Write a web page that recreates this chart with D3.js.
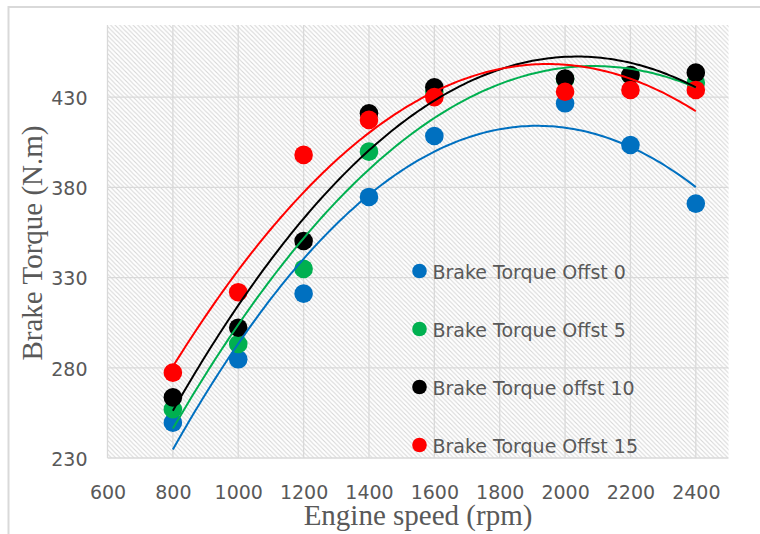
<!DOCTYPE html>
<html>
<head>
<meta charset="utf-8">
<script src="https://cdn.jsdelivr.net/npm/d3@7"></script>
<style>
  body { margin: 0; background: #fff; }
  svg { display: block; }
</style>
</head>
<body>
<svg width="760" height="534"></svg>
<script>
// Engine speed (rpm)
const speeds = [800, 1000, 1200, 1400, 1600, 2000, 2200, 2400];

// Brake torque (N.m) for each offset
const offset0 = [249.6, 284.7, 321.1, 374.7, 408.5, 426.6, 403.5, 371];
const offset5 = [257, 293.2, 334.8, 399.8, 433, 440, 442, 438];
const offset10 = [263.6, 302.2, 350.3, 421.1, 435.5, 440.3, 442.3, 443.6];
const offset15 = [277.3, 321.9, 398, 417.4, 430, 433, 434, 434];

const seriesNames = ["Brake Torque Offst 0", "Brake Torque Offst 5", "Brake Torque offst 10", "Brake Torque Offst 15"];
const seriesColors = ["#0070C0", "#00B050", "#000000", "#FF0000"];

const xTicks = [600, 800, 1000, 1200, 1400, 1600, 1800, 2000, 2200, 2400];
const yTicks = [230, 280, 330, 380, 430];

// Determinant of a 3x3 matrix
function det3(m) {
    return m[0][0] * (m[1][1] * m[2][2] - m[1][2] * m[2][1])
         - m[0][1] * (m[1][0] * m[2][2] - m[1][2] * m[2][0])
         + m[0][2] * (m[1][0] * m[2][1] - m[1][1] * m[2][0]);
}

// Polynomial trendline of order 2 (least squares), like the spreadsheet one
function polyFit2(xs, ys) {
    const x0 = d3.mean(xs);
    const u = xs.map(x => (x - x0) / 100);
    let s = [0, 0, 0, 0, 0];
    let t = [0, 0, 0];
    u.forEach((v, i) => {
        for (let k = 0; k < 5; k++) s[k] += Math.pow(v, k);
        for (let k = 0; k < 3; k++) t[k] += Math.pow(v, k) * ys[i];
    });
    const M = [[s[0], s[1], s[2]], [s[1], s[2], s[3]], [s[2], s[3], s[4]]];
    const D = det3(M);
    const coef = [0, 1, 2].map(j => {
        const Mj = M.map((row, r) => row.map((val, c) => c === j ? t[r] : val));
        return det3(Mj) / D;
    });
    return x => {
        const v = (x - x0) / 100;
        return coef[0] + coef[1] * v + coef[2] * v * v;
    };
}

function drawChart() {
    const svg = d3.select("svg");
    svg.selectAll("*").remove();

    const area = { left: 107.5, right: 728.5, top: 25, bottom: 458 };

    const scX = d3.scaleLinear().domain([600, 2500]).range([area.left, area.right]);
    const scY = d3.scaleLinear().domain([230, 470]).range([area.bottom, area.top]);

    // hatch pattern for the plot area
    const defs = svg.append("defs");
    const pat = defs.append("pattern")
        .attr("id", "hatch")
        .attr("patternUnits", "userSpaceOnUse")
        .attr("width", 4.5)
        .attr("height", 4.5);
    pat.append("path")
        .attr("d", "M-1,-1 L5.5,5.5 M-1,3.5 L1,5.5 M3.5,-1 L5.5,1")
        .attr("stroke", "#d6d6d6")
        .attr("stroke-width", 1.1);

    // outer chart border
    svg.append("rect")
        .attr("x", 8.5).attr("y", 7)
        .attr("width", 780).attr("height", 560)
        .attr("fill", "#fff")
        .attr("stroke", "#d9d9d9")
        .attr("stroke-width", 2);

    // plot area
    svg.append("rect")
        .attr("x", area.left).attr("y", area.top)
        .attr("width", area.right - area.left)
        .attr("height", area.bottom - area.top)
        .attr("fill", "url(#hatch)");

    // gridlines
    const grid = svg.append("g").attr("stroke", "#d9d9d9").attr("stroke-width", 1.3);
    grid.selectAll(".vgrid")
        .data(xTicks)
        .enter()
        .append("line")
        .attr("x1", d => scX(d)).attr("x2", d => scX(d))
        .attr("y1", area.top).attr("y2", area.bottom);
    grid.selectAll(".hgrid")
        .data(yTicks)
        .enter()
        .append("line")
        .attr("x1", area.left).attr("x2", area.right)
        .attr("y1", d => scY(d)).attr("y2", d => scY(d));

    // axes (labels only, no tick marks or domain line)
    const axisX = d3.axisBottom(scX).tickValues(xTicks).tickFormat(d3.format("d")).tickSize(0).tickPadding(0);
    const gx = svg.append("g")
        .attr("transform", `translate(0, ${area.bottom})`)
        .call(axisX);
    gx.select(".domain").remove();
    gx.selectAll("text")
        .attr("y", 40.5)
        .attr("dy", 0)
        .style("font-family", "DejaVu Sans")
        .style("font-size", "19px")
        .style("fill", "#595959");

    const axisY = d3.axisLeft(scY).tickValues(yTicks).tickFormat(d3.format("d")).tickSize(0).tickPadding(0);
    const gy = svg.append("g")
        .attr("transform", `translate(${area.left}, 0)`)
        .call(axisY);
    gy.select(".domain").remove();
    gy.selectAll("text")
        .attr("x", -20)
        .attr("dy", "0.38em")
        .style("font-family", "DejaVu Sans")
        .style("font-size", "19px")
        .style("fill", "#595959");

    // axis titles
    svg.append("text")
        .attr("x", (area.left + area.right) / 2)
        .attr("y", 525)
        .attr("text-anchor", "middle")
        .style("font-family", "Liberation Serif")
        .style("font-size", "29px")
        .style("fill", "#595959")
        .text("Engine speed (rpm)");

    svg.append("text")
        .attr("transform", `translate(41.5, ${(area.top + area.bottom) / 2 + 1.5}) rotate(-90)`)
        .attr("text-anchor", "middle")
        .style("font-family", "Liberation Serif")
        .style("font-size", "29px")
        .style("fill", "#595959")
        .text("Brake Torque (N.m)");

    const allSeries = [offset0, offset5, offset10, offset15];

    // markers
    allSeries.forEach((vals, i) => {
        svg.selectAll(".dot-" + i)
            .data(speeds.map((s, k) => ({ x: s, y: vals[k] })))
            .enter()
            .append("circle")
            .attr("class", "dot-" + i)
            .attr("cx", d => scX(d.x))
            .attr("cy", d => scY(d.y))
            .attr("r", 9.3)
            .style("fill", seriesColors[i]);
    });

    // trendlines
    const xs = d3.range(800, 2401, 10);
    allSeries.forEach((vals, i) => {
        const f = polyFit2(speeds, vals);
        svg.append("path")
            .datum(xs)
            .attr("fill", "none")
            .attr("stroke", seriesColors[i])
            .attr("stroke-width", 2)
            .attr("d", d3.line()
                .x(d => scX(d))
                .y(d => scY(f(d))));
    });

    // legend
    const legend = svg.append("g");
    seriesNames.forEach((name, i) => {
        const ly = 271 + i * 58;
        legend.append("circle")
            .attr("cx", 419.5)
            .attr("cy", ly)
            .attr("r", 7.3)
            .style("fill", seriesColors[i]);
        legend.append("text")
            .attr("x", 432.5)
            .attr("y", ly + 7.5)
            .style("font-family", "DejaVu Sans")
            .style("font-size", "19px")
            .style("fill", "#595959")
            .text(name);
    });
}

drawChart();
</script>
</body>
</html>
